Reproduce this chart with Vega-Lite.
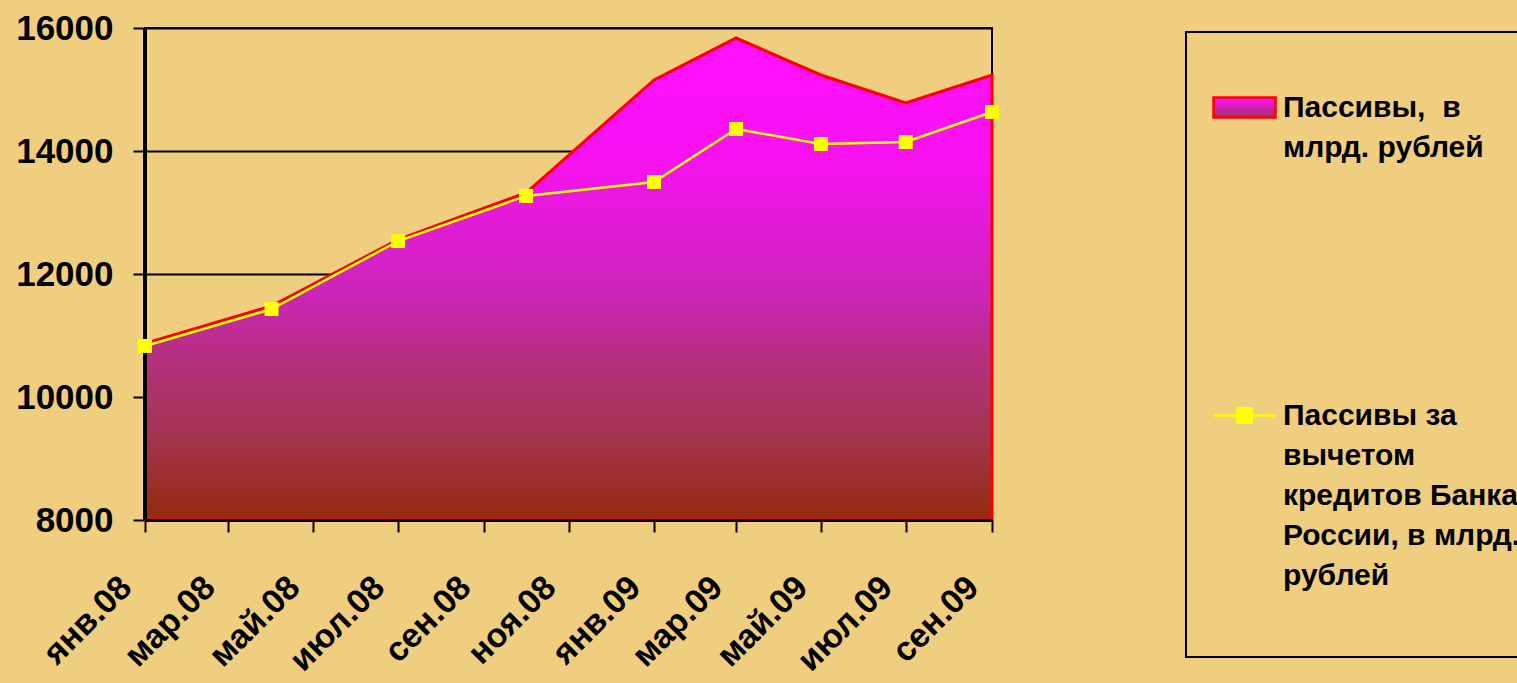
{
  "$schema": "https://vega.github.io/schema/vega-lite/v6.json",
  "width": 847,
  "height": 492,
  "autosize": {"type": "none"},
  "padding": {"left": 145, "top": 28, "right": 525, "bottom": 163},
  "background": "#EFCE80",
  "config": {
    "view": {"stroke": "#000000", "strokeWidth": 2, "fill": "#EFCE80"},
    "font": "Liberation Sans"
  },
  "data": {
    "values": [
      {"date": "2008-01-01", "passivy": 10870, "net": 10830},
      {"date": "2008-04-01", "passivy": 11480, "net": 11430},
      {"date": "2008-07-01", "passivy": 12560, "net": 12535},
      {"date": "2008-10-01", "passivy": 13320, "net": 13270},
      {"date": "2009-01-01", "passivy": 15155, "net": 13496},
      {"date": "2009-03-01", "passivy": 15837, "net": 14358},
      {"date": "2009-05-01", "passivy": 15236, "net": 14114},
      {"date": "2009-07-01", "passivy": 14780, "net": 14146},
      {"date": "2009-09-01", "passivy": 15236, "net": 14634}
    ]
  },
  "encoding": {
    "x": {
      "field": "date",
      "type": "temporal",
      "scale": {
        "type": "utc",
        "domain": [
          {"year": 2008, "month": 1, "date": 1, "utc": true},
          {"year": 2009, "month": 9, "date": 1, "utc": true}
        ]
      },
      "axis": {
        "values": [
          {"year": 2008, "month": 1, "date": 1, "utc": true},
          {"year": 2008, "month": 3, "date": 1, "utc": true},
          {"year": 2008, "month": 5, "date": 1, "utc": true},
          {"year": 2008, "month": 7, "date": 1, "utc": true},
          {"year": 2008, "month": 9, "date": 1, "utc": true},
          {"year": 2008, "month": 11, "date": 1, "utc": true},
          {"year": 2009, "month": 1, "date": 1, "utc": true},
          {"year": 2009, "month": 3, "date": 1, "utc": true},
          {"year": 2009, "month": 5, "date": 1, "utc": true},
          {"year": 2009, "month": 7, "date": 1, "utc": true},
          {"year": 2009, "month": 9, "date": 1, "utc": true}
        ],
        "labelExpr": "['янв','фев','мар','апр','май','июн','июл','авг','сен','окт','ноя','дек'][utcmonth(datum.value)] + '.' + utcFormat(datum.value, '%y')",
        "labelAngle": -45,
        "labelAlign": "right",
        "labelBaseline": "middle",
        "labelFontSize": 34,
        "labelFontWeight": "bold",
        "labelColor": "#000000",
        "labelPadding": 50,
        "labelOffset": -19,
        "labelOverlap": false,
        "labelFlush": false,
        "labelBound": false,
        "tickSize": 12,
        "tickWidth": 2,
        "tickColor": "#000000",
        "domainColor": "#000000",
        "domainWidth": 3,
        "grid": false,
        "title": null,
        "zindex": 1
      }
    }
  },
  "layer": [
    {
      "mark": {
        "type": "area",
        "fill": {
          "x1": 0, "y1": 0, "x2": 0, "y2": 1,
          "gradient": "linear",
          "stops": [
            {"offset": 0, "color": "#FF10FF"},
            {"offset": 0.25, "color": "#F712F2"},
            {"offset": 0.53, "color": "#CC25B8"},
            {"offset": 0.67, "color": "#B4307C"},
            {"offset": 0.82, "color": "#A33552"},
            {"offset": 1, "color": "#952A0E"}
          ]
        },
        "strokeWidth": 3,
        "fillOpacity": 1
      },
      "encoding": {
        "y": {
          "field": "passivy",
          "type": "quantitative",
          "scale": {"domain": [8000, 16000], "nice": false, "zero": false},
          "axis": {
            "values": [8000, 10000, 12000, 14000, 16000],
            "format": "d",
            "grid": true,
            "gridColor": "#000000",
            "gridWidth": 2,
            "gridOpacity": 1,
            "domainColor": "#000000",
            "domainWidth": 3,
            "tickColor": "#000000",
            "tickSize": 12,
            "tickWidth": 2,
            "labelFontSize": 35,
            "labelFontWeight": "bold",
            "labelColor": "#000000",
            "labelPadding": 20,
            "title": null,
            "zindex": 0
          }
        },
        "y2": {"datum": 8000},
        "stroke": {
          "datum": "Пассивы,  в|млрд. рублей",
          "type": "nominal",
          "scale": {
            "domain": ["Пассивы,  в|млрд. рублей", "Пассивы за|вычетом|кредитов Банка|России, в млрд.|рублей|"],
            "range": ["#FF0000", "#FFFF00"]
          },
          "legend": {
            "orient": "none",
            "legendX": 1041,
            "legendY": 4,
            "direction": "vertical",
            "title": " ",
            "titleFontSize": 10,
            "titlePadding": 7,
            "padding": 26,
            "strokeColor": "#000000",
            "fillColor": "#EFCE80",
            "symbolSize": 3844,
            "symbolStrokeWidth": 2.5,
            "labelExpr": "split(replace(datum.value, '  ', ' \u00a0'), '|')",
            "labelFontSize": 30,
            "labelFontWeight": "bold",
            "labelColor": "#000000",
            "labelLimit": 500,
            "labelOffset": 6,
            "labelBaseline": "top",
            "rowPadding": 220,
            "encoding": {
              "legend": {"strokeWidth": {"value": 2}},
              "labels": {"lineHeight": {"value": 40}, "dy": {"value": -15}},
              "symbols": {
                "fill": {"value": {"expr": "indexof(datum.value, 'вычетом') < 0 ? {gradient: 'linear', x1: 0, y1: 0, x2: 0, y2: 1, stops: [{offset: 0, color: '#FF12FF'}, {offset: 1, color: '#A03060'}]} : '#FFFF00'"}},
                "shape": {"value": {"expr": "indexof(datum.value, 'вычетом') < 0 ? 'M-1,-0.32H1V0.32H-1Z' : 'M-1,0H1M-0.23,-0.23H0.23V0.23H-0.23Z'"}}
              }
            }
          }
        }
      }
    },
    {
      "mark": {"type": "rule", "color": "#000000", "strokeWidth": 3},
      "encoding": {
        "x": {"datum": {"year": 2008, "month": 1, "date": 1, "utc": true}, "type": "temporal"},
        "y": {"datum": 8000, "type": "quantitative"},
        "y2": {"datum": 16000}
      }
    },
    {
      "mark": {"type": "line", "strokeWidth": 2.5},
      "encoding": {
        "y": {"field": "net", "type": "quantitative"},
        "stroke": {"datum": "Пассивы за|вычетом|кредитов Банка|России, в млрд.|рублей|", "type": "nominal"}
      }
    },
    {
      "mark": {"type": "point", "shape": "square", "filled": true, "size": 196, "fill": "#FFFF00", "strokeWidth": 0, "opacity": 1},
      "encoding": {
        "y": {"field": "net", "type": "quantitative"}
      }
    }
  ]
}
